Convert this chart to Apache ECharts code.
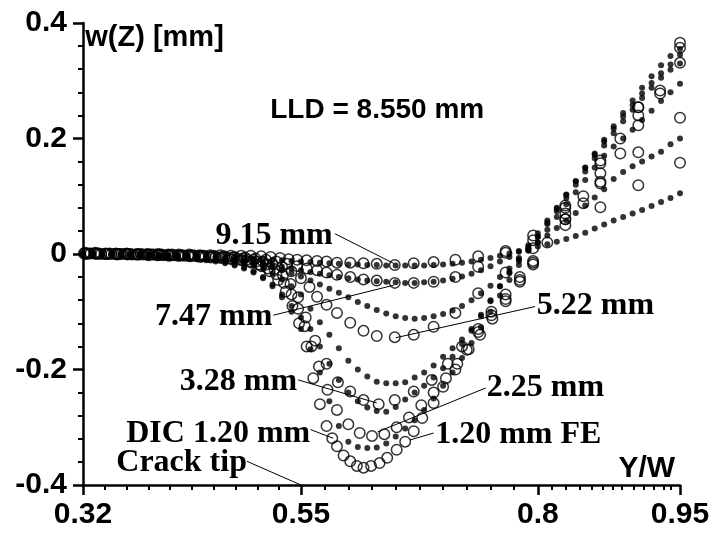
<!DOCTYPE html>
<html><head><meta charset="utf-8">
<script src="https://cdn.jsdelivr.net/npm/echarts@6/dist/echarts.min.js"></script>
<style>html,body{margin:0;padding:0;background:#fff}#c{width:713px;height:533px}</style>
</head><body><div id="c"></div><script>
// ---- axes ----
const X_MIN = 0.32, X_MAX = 0.95, Y_MIN = -0.4, Y_MAX = 0.4, Y_STEP = 0.2;
const xMajorTicks = [0.32, 0.55, 0.8, 0.95];
const xMinorTicks = [0.343,0.366,0.389,0.412,0.435,0.458,0.481,0.504,0.527,
  0.575,0.6,0.625,0.65,0.675,0.7,0.725,0.75,0.775,
  0.815,0.829,0.844,0.857,0.869,0.879,0.889,0.901,0.912,0.922,0.933,0.94];

// ---- FE (filled dots) ----
const feX = [0.32,0.33,0.34,0.35,0.36,0.37,0.38,0.39,0.40,0.41,0.42,0.43,0.44,
  0.45,0.46,0.47,0.48,0.49,0.50,0.51,0.52,0.53,0.54,0.55,
  0.56,0.57,0.58,0.59,0.60,0.61,0.62,0.63,0.64,0.65,0.66,0.67,0.68,0.69,0.70,
  0.71,0.72,0.73,0.74,0.75,0.76,0.77,0.78,0.79,0.80,
  0.81,0.82,0.83,0.84,0.85,0.86,0.87,0.88,0.89,0.90,0.91,0.92,0.93,0.94,0.95];
const fe915 = [0,0,0,0,0,-0.001,-0.001,-0.001,-0.002,-0.002,-0.002,-0.003,-0.003,
  -0.004,-0.004,-0.005,-0.006,-0.007,-0.008,-0.009,-0.01,-0.011,-0.012,-0.013,
  -0.014,-0.015,-0.016,-0.017,-0.018,-0.018,-0.019,-0.019,-0.02,-0.02,-0.02,-0.02,-0.02,-0.019,-0.018,
  -0.017,-0.015,-0.013,-0.01,-0.007,-0.003,0.001,0.005,0.009,0.013,
  0.017,0.021,0.026,0.031,0.037,0.044,0.051,0.058,0.064,0.07,0.076,0.083,0.09,0.097,0.105];
const fe747 = [0,0,0,0,0,-0.001,-0.001,-0.002,-0.002,-0.003,-0.003,-0.004,-0.005,
  -0.006,-0.007,-0.008,-0.01,-0.012,-0.014,-0.016,-0.019,-0.022,-0.025,-0.028,
  -0.031,-0.034,-0.037,-0.04,-0.042,-0.044,-0.046,-0.047,-0.048,-0.049,-0.05,-0.05,-0.049,-0.048,-0.046,
  -0.043,-0.039,-0.034,-0.028,-0.021,-0.013,-0.005,0.004,0.012,0.02,
  0.032,0.045,0.058,0.071,0.084,0.098,0.112,0.13,0.142,0.152,0.16,0.169,0.177,0.19,0.2];
const fe522 = [0,0,0,0,-0.001,-0.001,-0.001,-0.002,-0.002,-0.003,-0.003,-0.004,-0.005,
  -0.006,-0.007,-0.009,-0.011,-0.013,-0.016,-0.019,-0.023,-0.028,-0.033,-0.039,
  -0.046,-0.053,-0.06,-0.067,-0.075,-0.083,-0.09,-0.097,-0.103,-0.108,-0.111,-0.112,-0.111,-0.108,-0.104,
  -0.098,-0.09,-0.08,-0.068,-0.055,-0.04,-0.025,-0.009,0.006,0.02,
  0.042,0.064,0.086,0.107,0.128,0.15,0.17,0.186,0.2,0.215,0.232,0.248,0.265,0.28,0.295];
const fe328 = [0,0,0,-0.001,-0.001,-0.001,-0.002,-0.002,-0.003,-0.003,-0.004,-0.005,-0.006,
  -0.007,-0.009,-0.011,-0.013,-0.016,-0.02,-0.026,-0.034,-0.044,-0.056,-0.07,
  -0.095,-0.118,-0.14,-0.163,-0.185,-0.2,-0.212,-0.221,-0.224,-0.224,-0.222,-0.214,-0.205,-0.193,-0.178,
  -0.163,-0.148,-0.13,-0.105,-0.08,-0.056,-0.033,-0.012,0.009,0.03,
  0.052,0.074,0.097,0.12,0.143,0.166,0.188,0.209,0.23,0.25,0.27,0.288,0.305,0.319,0.33];
const fe225 = [0,0,0,-0.001,-0.001,-0.002,-0.002,-0.003,-0.003,-0.004,-0.005,-0.006,-0.007,
  -0.009,-0.011,-0.014,-0.018,-0.023,-0.03,-0.04,-0.053,-0.07,-0.09,-0.11,
  -0.13,-0.16,-0.19,-0.218,-0.24,-0.255,-0.266,-0.272,-0.273,-0.265,-0.252,-0.24,-0.228,-0.214,-0.198,
  -0.178,-0.156,-0.133,-0.108,-0.082,-0.056,-0.031,-0.007,0.015,0.036,
  0.058,0.08,0.103,0.126,0.149,0.172,0.195,0.217,0.238,0.258,0.278,0.296,0.313,0.328,0.345];
const fe120 = [0,0,0,-0.001,-0.001,-0.002,-0.002,-0.003,-0.004,-0.005,-0.006,-0.007,-0.009,
  -0.011,-0.013,-0.016,-0.02,-0.025,-0.032,-0.042,-0.056,-0.075,-0.1,-0.13,
  -0.165,-0.205,-0.255,-0.298,-0.325,-0.334,-0.336,-0.335,-0.328,-0.316,-0.302,-0.288,-0.27,-0.25,-0.228,
  -0.205,-0.18,-0.154,-0.127,-0.1,-0.072,-0.045,-0.019,0.006,0.03,
  0.054,0.078,0.102,0.126,0.15,0.174,0.198,0.221,0.244,0.266,0.288,0.308,0.327,0.343,0.355];

// ---- DIC (open circles) ----
const dic915X = [0.322,0.333,0.344,0.355,0.366,0.377,0.388,0.399,0.41,0.421,0.432,0.443,0.454,0.465,0.476,0.487,0.497,0.508,0.518,0.528,
  0.537,0.546,0.556,0.567,0.577,0.588,0.602,0.616,0.63,0.649,0.669,0.69,0.713,0.737,0.766,0.795,0.829,0.866,0.906,0.95];
const dic915Y = [0.002,0.002,0.001,0.001,0.001,0,0,0,-0.001,-0.001,-0.001,-0.002,-0.002,-0.002,-0.003,-0.003,-0.003,-0.004,-0.005,-0.007,
  -0.009,-0.01,-0.011,-0.012,-0.013,-0.015,-0.015,-0.016,-0.017,-0.019,-0.016,-0.014,-0.01,-0.004,0.005,0.024,0.05,0.081,0.119,0.158];
const dic747X = [0.326,0.337,0.348,0.359,0.37,0.381,0.392,0.403,0.414,0.425,0.436,0.447,0.458,0.469,0.48,0.491,0.502,0.513,0.524,0.535,
  0.546,0.556,0.567,0.577,0.588,0.602,0.616,0.63,0.649,0.669,0.69,0.713,0.737,0.766,0.795,0.829,0.866,0.906,0.95];
const dic747Y = [0.001,0.001,0.001,0,0,0,-0.001,-0.001,-0.001,-0.002,-0.002,-0.003,-0.003,-0.004,-0.005,-0.006,-0.008,-0.01,-0.013,-0.017,
  -0.021,-0.025,-0.028,-0.032,-0.036,-0.04,-0.044,-0.046,-0.05,-0.05,-0.048,-0.04,-0.022,0.002,0.032,0.084,0.122,0.176,0.236];
const dic522X = [0.324,0.335,0.346,0.357,0.368,0.379,0.39,0.401,0.412,0.423,0.434,0.445,0.456,0.467,0.478,0.489,0.5,0.51,0.52,0.53,
  0.54,0.55,0.559,0.567,0.577,0.588,0.602,0.616,0.63,0.649,0.669,0.69,0.713,0.737,0.766,0.795,0.829,0.848,0.866,0.887,0.906,0.929,0.95];
const dic522Y = [0.001,0.001,0,0,0,-0.001,-0.001,-0.001,-0.002,-0.002,-0.003,-0.003,-0.004,-0.005,-0.006,-0.008,-0.01,-0.013,-0.017,-0.022,
  -0.03,-0.042,-0.057,-0.074,-0.088,-0.102,-0.119,-0.133,-0.142,-0.144,-0.14,-0.126,-0.102,-0.068,-0.032,0.01,0.06,0.088,0.125,0.174,0.223,0.278,0.331];
const dic328X = [0.328,0.339,0.35,0.361,0.372,0.383,0.394,0.405,0.416,0.427,0.438,0.449,0.46,0.471,0.482,0.493,0.503,0.513,0.522,0.531,
  0.539,0.547,0.555,0.565,0.577,0.589,0.602,0.616,0.632,0.649,0.669,0.688,0.705,0.72,0.737,0.751,0.766,0.781,0.795,0.829,0.866,0.906,0.95];
const dic328Y = [0.001,0,0,0,-0.001,-0.001,-0.001,-0.002,-0.002,-0.003,-0.003,-0.004,-0.005,-0.006,-0.008,-0.01,-0.013,-0.018,-0.026,-0.037,
  -0.052,-0.075,-0.11,-0.15,-0.19,-0.222,-0.238,-0.253,-0.26,-0.253,-0.238,-0.218,-0.19,-0.16,-0.13,-0.1,-0.07,-0.04,-0.012,0.08,0.157,0.24,0.357];
const dic225X = [0.321,0.332,0.343,0.354,0.365,0.376,0.387,0.398,0.409,0.42,0.431,0.442,0.453,0.464,0.475,0.486,0.496,0.506,0.515,0.524,
  0.532,0.54,0.547,0.554,0.561,0.569,0.578,0.588,0.6,0.612,0.625,0.638,0.651,0.664,0.677,0.69,0.703,0.715,0.727,0.739,
  0.752,0.766,0.781,0.795,0.829,0.866,0.906,0.95];
const dic225Y = [0.001,0.001,0,0,0,-0.001,-0.001,-0.002,-0.002,-0.003,-0.003,-0.004,-0.005,-0.006,-0.008,-0.01,-0.013,-0.018,-0.025,-0.035,
  -0.05,-0.07,-0.095,-0.125,-0.16,-0.195,-0.235,-0.27,-0.295,-0.31,-0.315,-0.312,-0.3,-0.283,-0.262,-0.24,-0.215,-0.19,-0.165,-0.14,
  -0.112,-0.082,-0.048,-0.018,0.07,0.14,0.254,0.366];
const dic120X = [0.323,0.334,0.345,0.356,0.367,0.378,0.389,0.4,0.411,0.422,0.433,0.444,0.455,0.466,0.477,0.488,0.498,0.508,0.517,0.526,
  0.534,0.541,0.548,0.556,0.563,0.57,0.577,0.583,0.588,0.595,0.602,0.609,0.616,0.624,0.633,0.641,0.651,0.66,0.669,0.678,
  0.69,0.7,0.713,0.725,0.737,0.751,0.766,0.781,0.795,0.81,0.829,0.848,0.866,0.887,0.906,0.929];
const dic120Y = [0,0,0,-0.001,-0.001,-0.001,-0.002,-0.002,-0.003,-0.003,-0.004,-0.005,-0.006,-0.007,-0.009,-0.011,-0.015,-0.021,-0.03,-0.045,
  -0.065,-0.09,-0.12,-0.16,-0.215,-0.26,-0.298,-0.319,-0.333,-0.349,-0.359,-0.367,-0.37,-0.367,-0.362,-0.353,-0.339,-0.325,-0.307,-0.284,
  -0.258,-0.23,-0.2,-0.166,-0.135,-0.106,-0.078,-0.045,-0.015,0.02,0.06,0.1,0.162,0.2,0.254,0.283];

// ---- annotations (data coordinates) ----
const labelTexts = ['9.15 mm','7.47 mm','5.22 mm','3.28 mm','2.25 mm','1.20 mm FE','DIC 1.20 mm','Crack tip'];
const labelAnchors = [[0.4597,0.0308],[0.5198,-0.1092],[0.7989,-0.0902],[0.546,-0.222],[0.7461,-0.2319],[0.6916,-0.3131],[0.5598,-0.3114],[0.493,-0.3615]];
const labelAligns = ['left','right','left','right','left','left','right','right'];
const leaderStarts = [[0.586,0.035],[0.521,-0.106],[0.797,-0.091],[0.547,-0.218],[0.745,-0.232],[0.690,-0.31],[0.560,-0.304],[0.493,-0.359]];
const leaderEnds   = [[0.648,-0.0164],[0.648,-0.054],[0.650,-0.145],[0.630,-0.258],[0.631,-0.308],[0.665,-0.322],[0.584,-0.319],[0.55,-0.4]];

const chart = echarts.init(document.getElementById('c'), null, {renderer:'canvas'});
const zip = (xs, ys) => xs.map((x,i)=>[x, ys[i]]);
const feList = [fe915, fe747, fe522, fe328, fe225, fe120];
const dicList = [[dic915X,dic915Y],[dic747X,dic747Y],[dic522X,dic522Y],[dic328X,dic328Y],[dic225X,dic225Y],[dic120X,dic120Y]];
const series = [];
dicList.forEach(([xs,ys])=>series.push({type:'scatter', data:zip(xs,ys), symbol:'circle', symbolSize:10.5,
  itemStyle:{color:'rgba(0,0,0,0)', borderColor:'#000', borderWidth:1.5}, silent:true, z:3}));
feList.forEach(ys=>series.push({type:'scatter', data:zip(feX,ys), symbol:'circle', symbolSize:6,
  itemStyle:{color:'#000'}, silent:true, z:4}));
leaderStarts.forEach((s,i)=>series.push({type:'line', data:[s, leaderEnds[i]], showSymbol:false, symbol:'none',
  lineStyle:{color:'#000', width:1}, silent:true, z:5}));

const sans = 'Liberation Sans';
chart.setOption({
  animation:false,
  backgroundColor:'#fff',
  grid:{left:83, right:33, top:23, bottom:48, containLabel:false},
  xAxis:[{
    type:'value', min:X_MIN, max:X_MAX, position:'bottom',
    axisLine:{show:true, onZero:false, lineStyle:{color:'#000', width:2.5}},
    axisTick:{show:true, inside:false, length:10, customValues:xMajorTicks, lineStyle:{color:'#000', width:2.5}},
    axisLabel:{show:true, customValues:xMajorTicks, formatter:v=>String(v), margin:15, color:'#000',
      fontFamily:sans, fontWeight:'bold', fontSize:30},
    splitLine:{show:false}
  },{
    type:'value', min:X_MIN, max:X_MAX, position:'bottom', gridIndex:0,
    axisLine:{show:false, onZero:false},
    axisTick:{show:true, inside:false, length:5, customValues:xMinorTicks, lineStyle:{color:'#000', width:2}},
    axisLabel:{show:false}, splitLine:{show:false}
  }],
  yAxis:{
    type:'value', min:Y_MIN, max:Y_MAX, interval:Y_STEP,
    axisLine:{show:true, onZero:false, lineStyle:{color:'#000', width:2.5}},
    axisTick:{show:true, inside:false, length:10, lineStyle:{color:'#000', width:2.5}},
    minorTick:{show:true, splitNumber:5, length:5, lineStyle:{color:'#000', width:2}},
    axisLabel:{margin:16, color:'#000', fontFamily:sans, fontWeight:'bold', fontSize:30},
    splitLine:{show:false}
  },
  series: series
});

const g = [];
labelTexts.forEach((t,i)=>{
  const p = chart.convertToPixel({gridIndex:0}, labelAnchors[i]);
  g.push({type:'text', x:p[0], y:p[1], z:10, style:{text:t, fill:'#000', align:labelAligns[i], verticalAlign:'middle',
    font:'bold 32px "Liberation Serif"'}});
});
const p1 = chart.convertToPixel({gridIndex:0}, [0.3224, 0.3737]);
g.push({type:'text', x:p1[0], y:p1[1], z:10, style:{text:'w(Z) [mm]', fill:'#000', align:'left', verticalAlign:'middle', font:'bold 29px "Liberation Sans"'}});
const p2 = chart.convertToPixel({gridIndex:0}, [0.5176, 0.2485]);
g.push({type:'text', x:p2[0], y:p2[1], z:10, style:{text:'LLD = 8.550 mm', fill:'#000', align:'left', verticalAlign:'middle', font:'bold 28px "Liberation Sans"'}});
const p3 = chart.convertToPixel({gridIndex:0}, [0.9448, -0.3718]);
g.push({type:'text', x:p3[0], y:p3[1], z:10, style:{text:'Y/W', fill:'#000', align:'right', verticalAlign:'middle', font:'bold 30px "Liberation Sans"'}});
chart.setOption({graphic:g});
</script></body></html>
